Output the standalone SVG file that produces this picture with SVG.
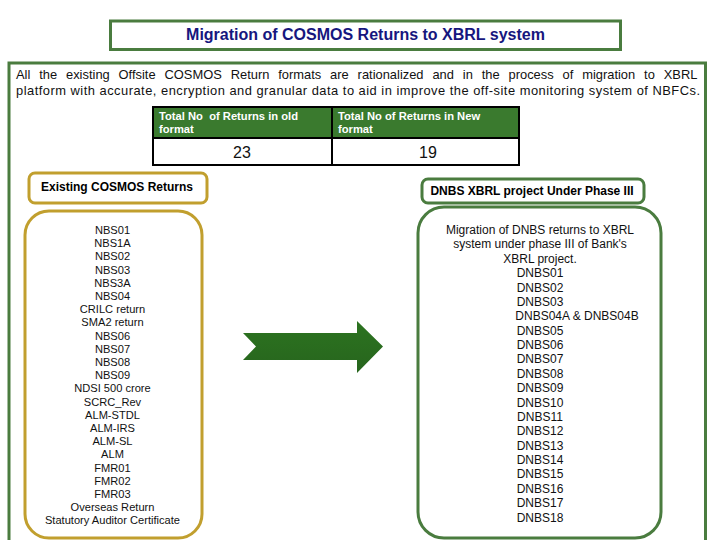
<svg xmlns="http://www.w3.org/2000/svg" width="720" height="540" viewBox="0 0 720 540">
<style>
text{font-family:"Liberation Sans",Arial,sans-serif;fill:#111}
.g{fill:none;stroke:#4a7c3f;stroke-width:3}
.y{fill:none;stroke:#c19f2e;stroke-width:3}
.l text{font-size:11.1px;text-anchor:middle}
.r text{font-size:12px}
.h{font-size:11.2px;fill:#fff;font-weight:bold}
.b{font-size:12px;font-weight:bold;fill:#000}
.p{font-size:12.9px}
.t{fill:none;stroke:#000;stroke-width:2}
</style>
<defs><linearGradient id="a" x1="0" y1="0" x2="0" y2="1"><stop offset="0" stop-color="#2c7320"/><stop offset="1" stop-color="#27651d"/></linearGradient></defs>
<rect width="720" height="540" fill="#fff"/>
<g id="title"><rect class="g" x="110.500" y="21" width="510" height="28.500"/><text x="365.500" y="39.500" font-size="16" font-weight="bold" text-anchor="middle" style="fill:#16167e">Migration of COSMOS Returns to XBRL system</text></g>
<g id="frame"><path class="g" d="M9 545V63H705.500V545"/>
<text class="p" x="16" y="79" word-spacing="5.300">All the existing Offsite COSMOS Return formats are rationalized and in the process of migration to XBRL</text>
<text class="p" x="16" y="95" textLength="684">platform with accurate, encryption and granular data to aid in improve the off-site monitoring system of NBFCs.</text></g>
<g id="table"><rect x="153" y="107" width="366" height="31" fill="#3a7a2e"/><rect class="t" x="153" y="107" width="366" height="58"/><path class="t" d="M153 138H519M332 107V165"/>
<text class="h" x="159" y="120" xml:space="preserve">Total No  of Returns in old</text><text class="h" x="159" y="133">format</text>
<text class="h" x="338" y="120">Total No of Returns in New</text><text class="h" x="338" y="133">format</text>
<text x="242" y="158" font-size="16" text-anchor="middle">23</text><text x="428" y="158" font-size="16" text-anchor="middle">19</text></g>
<g id="existing-header"><rect class="y" x="29" y="173" width="178" height="30" rx="6"/><text class="b" x="117" y="191" text-anchor="middle">Existing COSMOS Returns</text></g>
<g id="existing-list" class="l"><rect class="y" x="25" y="211" width="177" height="327" rx="24"/>
<text x="112.500" y="234">NBS01</text><text x="112.500" y="247">NBS1A</text><text x="112.500" y="260">NBS02</text><text x="112.500" y="274">NBS03</text><text x="112.500" y="287">NBS3A</text><text x="112.500" y="300">NBS04</text><text x="112.500" y="313">CRILC return</text><text x="112.500" y="326">SMA2 return</text><text x="112.500" y="340">NBS06</text><text x="112.500" y="353">NBS07</text><text x="112.500" y="366">NBS08</text><text x="112.500" y="379">NBS09</text><text x="112.500" y="392">NDSI 500 crore</text><text x="112.500" y="406">SCRC_Rev</text><text x="112.500" y="419">ALM-STDL</text><text x="112.500" y="432">ALM-IRS</text><text x="112.500" y="445">ALM-SL</text><text x="112.500" y="458">ALM</text><text x="112.500" y="472">FMR01</text><text x="112.500" y="485">FMR02</text><text x="112.500" y="498">FMR03</text><text x="112.500" y="511">Overseas Return</text><text x="112.500" y="524">Statutory Auditor Certificate</text></g>
<g id="connectors"><path d="M243 333H357V321L383 346.500 357 373V360H243L256 346.500Z" fill="url(#a)"/></g>
<g id="dnbs-header"><rect class="g" x="422" y="179" width="222" height="24" rx="6"/><text class="b" x="532" y="194.500" text-anchor="middle">DNBS XBRL project Under Phase III</text></g>
<g id="dnbs-list" class="l r"><rect class="g" x="418" y="207" width="243" height="331" rx="26"/>
<text x="540" y="234">Migration of DNBS returns to XBRL</text><text x="540" y="248">system under phase III of Bank's</text><text x="540" y="263">XBRL project.</text><text x="540" y="277">DNBS01</text><text x="540" y="292">DNBS02</text><text x="540" y="306">DNBS03</text><text x="577" y="320">DNBS04A &amp; DNBS04B</text><text x="540" y="335">DNBS05</text><text x="540" y="349">DNBS06</text><text x="540" y="363">DNBS07</text><text x="540" y="378">DNBS08</text><text x="540" y="392">DNBS09</text><text x="540" y="407">DNBS10</text><text x="540" y="421">DNBS11</text><text x="540" y="435">DNBS12</text><text x="540" y="450">DNBS13</text><text x="540" y="464">DNBS14</text><text x="540" y="478">DNBS15</text><text x="540" y="493">DNBS16</text><text x="540" y="507">DNBS17</text><text x="540" y="522">DNBS18</text></g>
</svg>
